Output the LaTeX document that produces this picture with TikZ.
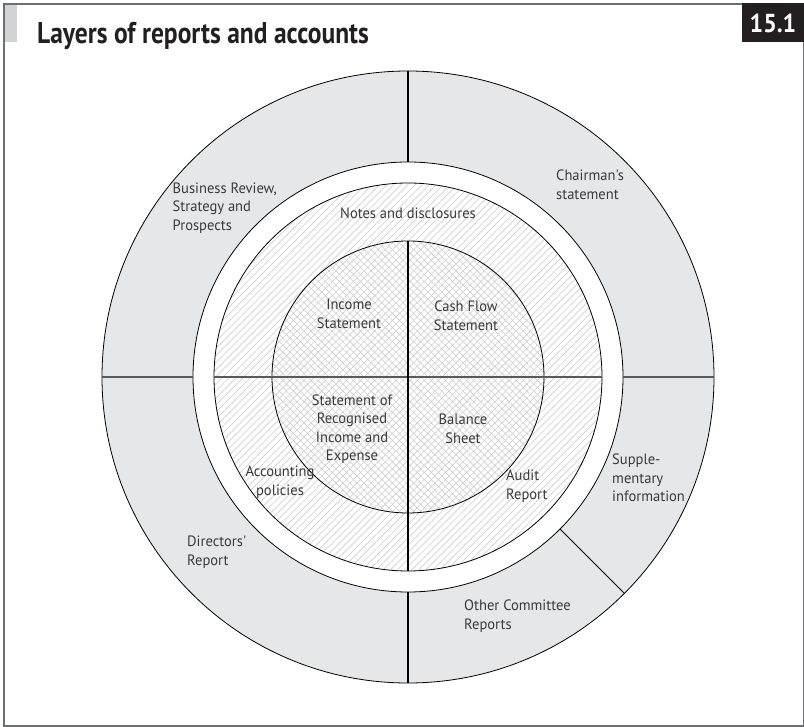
\documentclass[tikz,border=0pt]{standalone}
\usepackage{fontspec}
\usetikzlibrary{patterns.meta}
\newfontfamily\lblfont[FakeStretch=0.97]{PT Sans}
\newfontfamily\ttlfont[FakeStretch=0.85]{PT Sans}
\newfontfamily\numfont[FakeStretch=0.92]{PT Sans}
\definecolor{ringgray}{HTML}{E6E7E8}
\definecolor{hatchgray}{HTML}{CFCFCF}
\definecolor{framegray}{HTML}{6D6E70}
\definecolor{bargray}{HTML}{D1D3D4}
\definecolor{linegray}{HTML}{58595B}
\definecolor{txtgray}{HTML}{3A3A3A}
\definecolor{boxblack}{HTML}{231F20}
\tikzset{
  lbl/.style={inner sep=0pt, text=txtgray, font=\lblfont\fontsize{15}{18.5}\selectfont},
  circ/.style={draw=black, line width=0.8pt},
  divline/.style={draw=linegray, line width=1.5pt},
  thinline/.style={draw=black, line width=0.9pt},
}
\begin{document}
\begin{tikzpicture}[x=1pt,y=1pt]
\useasboundingbox (0,0) rectangle (804,-727);
% frame
\fill[bargray] (5,-5) rectangle (17,-42);
\draw[framegray, line width=1.3pt] (742,-4) -- (4,-4) -- (4,-726) -- (803.3,-726) -- (803.3,-42);
\fill[boxblack] (742,-3.4) rectangle (804,-42);
\node[inner sep=0pt, anchor=base, text=white, font=\numfont\bfseries\fontsize{26}{28}\selectfont] (num) at (773,-33) {15.1};
\node[inner sep=0pt, anchor=base west, text=boxblack, font=\ttlfont\bfseries\fontsize{30}{32}\selectfont] (title) at (37,-44) {Layers of reports and accounts};
% circles
\coordinate (c) at (408,-377);
\path[circ, fill=ringgray] (c) circle (306);
\path[circ, fill=white] (c) circle (215);
\path[circ, preaction={fill=white}, pattern={Lines[angle=45,distance=5pt,line width=0.65pt]}, pattern color=hatchgray] (c) circle (194);
\path[circ, preaction={fill=white}, pattern={Hatch[angle=45,distance=5pt,line width=0.6pt]}, pattern color=hatchgray] (c) circle (136);
% coordinates
\path (c) +(90:306) coordinate (oT) +(90:215) coordinate (wT)
          +(180:306) coordinate (oL) +(180:215) coordinate (wL)
          +(0:306) coordinate (oR) +(0:215) coordinate (wR)
          +(270:306) coordinate (oB) +(270:215) coordinate (wB)
          +(-45:306) coordinate (oD) +(-45:215) coordinate (wD)
          +(180:194) coordinate (hL) +(0:194) coordinate (hR)
          +(270:194) coordinate (hB) +(90:136) coordinate (iT);
% dividing lines
\draw[thinline, line width=1.2pt] (oT) -- (wT);
\draw[divline] (oL) -- (wL);
\draw[divline] (oR) -- (wR);
\draw[thinline, line width=1.2pt] (oB) -- (wB);
\draw[thinline] (oD) -- (wD);
\draw[divline] (hL) -- (hR);
\draw[thinline, line width=1.2pt] (iT) -- (hB);
% labels
\node[lbl] (notes) at (408,-213) {Notes and disclosures};
\node[lbl, align=center] (income) at (349,-314) {Income\\Statement};
\node[lbl, align=center] (cash) at (466,-316) {Cash Flow\\Statement};
\node[lbl, align=center] (sorie) at (352,-429) {Statement of\\Recognised\\Income and\\Expense};
\node[lbl, align=center] (balance) at (463,-429) {Balance\\Sheet};
\node[lbl, align=center] (acc) at (280,-482) {Accounting\\policies};
\node[lbl, align=left, anchor=west] (audit) at (506,-486) {Audit\\Report};
\node[lbl, align=left, anchor=west] (supp) at (612,-478) {Supple-\\mentary\\information};
\node[lbl, align=left, anchor=west] (other) at (464,-616) {Other Committee\\Reports};
\node[lbl, align=left, anchor=west] (dir) at (187,-552) {Directors'\\Report};
\node[lbl, align=left, anchor=east] (bus) at (277,-208) {Business Review,\\Strategy and\\Prospects};
\node[lbl, align=left, anchor=west] (chair) at (556,-185) {Chairman's\\statement};
\end{tikzpicture}
\end{document}
